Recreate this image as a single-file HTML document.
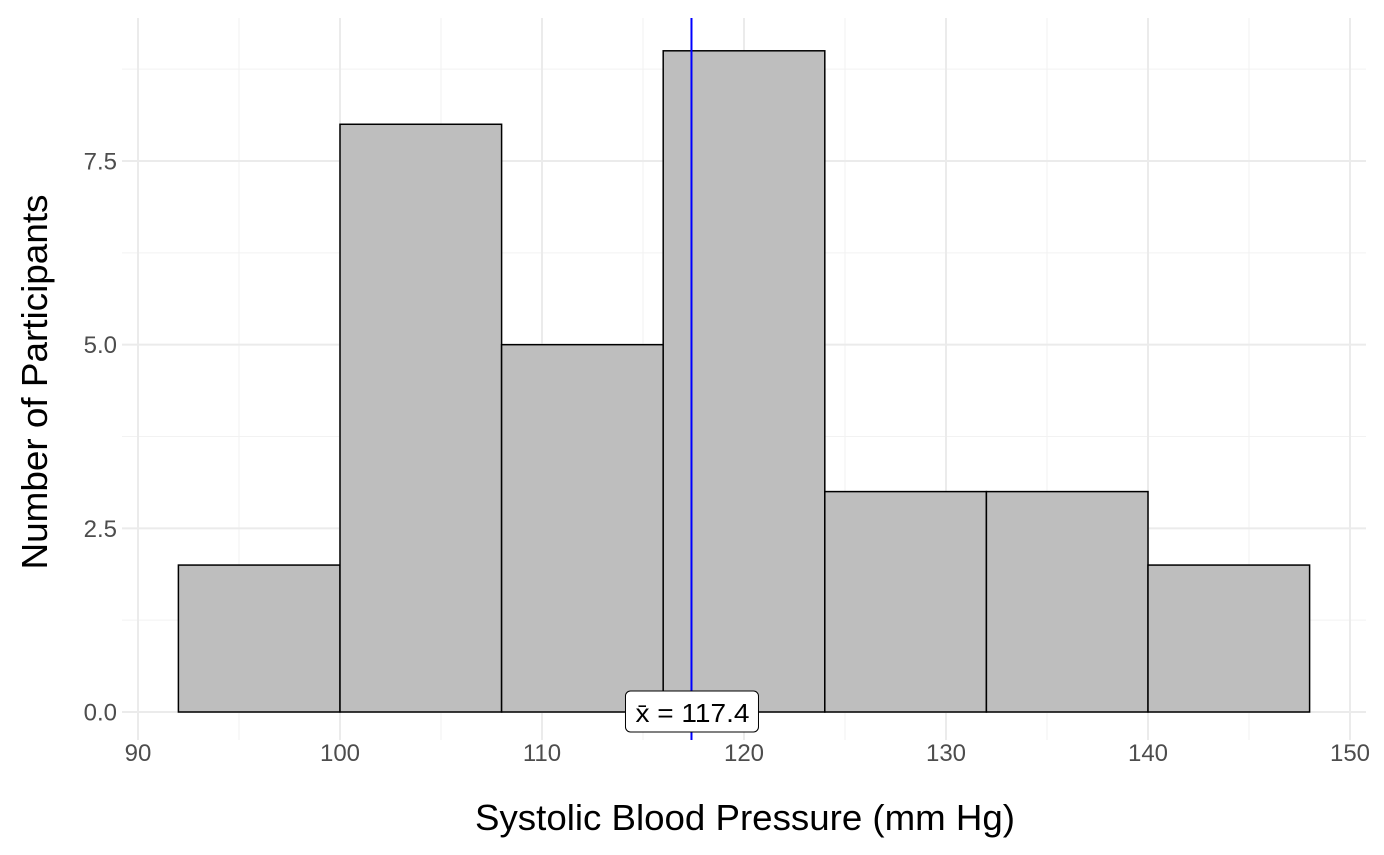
<!DOCTYPE html>
<html><head><meta charset="utf-8">
<style>
html,body{margin:0;padding:0;background:#fff;}
svg{display:block;font-family:"Liberation Sans",Arial,sans-serif;}
</style></head>
<body>
<svg id="chart" width="1384" height="855">
  <g id="grid"></g>
  <g id="bars"></g>
  <g id="ticks"></g>
  <line id="meanline" stroke="#0000ff" stroke-width="2"></line>
  <g id="meanlabel"></g>
  <text x="745" y="830" text-anchor="middle" font-size="36" textLength="540" lengthAdjust="spacingAndGlyphs" fill="#000">Systolic Blood Pressure (mm Hg)</text>
  <text transform="translate(47,382) rotate(-90)" text-anchor="middle" font-size="36" textLength="375" lengthAdjust="spacingAndGlyphs" fill="#000">Number of Participants</text>
</svg>
<script>
const binStarts = [92, 100, 108, 116, 124, 132, 140];
const binWidth = 8;
const counts = [2, 8, 5, 9, 3, 3, 2];
const meanValue = 117.4;
const xTicks = [90, 100, 110, 120, 130, 140, 150];
const yTicks = [0, 2.5, 5, 7.5];
const yTickLabels = ["0.0", "2.5", "5.0", "7.5"];

const NS = "http://www.w3.org/2000/svg";
const xs = v => 138 + (v - 90) * (1212 / 60);
const ys = v => 712 - v * (551 / 7.5);
const L = 122, R = 1366, T = 18, B = 740;
function mk(tag, attrs, parent){const e=document.createElementNS(NS,tag);for(const k in attrs)e.setAttribute(k,attrs[k]);parent.appendChild(e);return e;}

const grid = document.getElementById('grid');
for (let i=0;i<xTicks.length-1;i++){
  const v=(xTicks[i]+xTicks[i+1])/2;
  const l=mk('line',{x1:xs(v),x2:xs(v),y1:T,y2:B,stroke:'#f2f2f2','stroke-width':1},grid);
  
  
}
const yMinor=[1.25,3.75,6.25,8.75];
for (const v of yMinor){
  const l=mk('line',{x1:L,x2:R,y1:ys(v),y2:ys(v),stroke:'#f2f2f2','stroke-width':1},grid);
  
  
}
for (const v of xTicks){
  const l=mk('line',{x1:xs(v),x2:xs(v),y1:T,y2:B,stroke:'#ebebeb','stroke-width':2},grid);
  
  
}
for (const v of yTicks){
  const l=mk('line',{x1:L,x2:R,y1:ys(v),y2:ys(v),stroke:'#ebebeb','stroke-width':2},grid);
  
  
}
const bars=document.getElementById('bars');
binStarts.forEach((s,i)=>{
  const x0=xs(s),x1=xs(s+binWidth),y0=ys(counts[i]);
  const r=mk('rect',{x:x0,y:y0,width:x1-x0,height:ys(0)-y0,fill:'#bebebe',stroke:'#000','stroke-width':1.5},bars);
  
  
});
const ticks=document.getElementById('ticks');
xTicks.forEach(v=>{
  const t=mk('text',{x:xs(v),y:761,'text-anchor':'middle','font-size':24,fill:'#4d4d4d'},ticks);
  t.textContent=v;
  
  
});
yTicks.forEach((v,i)=>{
  const t=mk('text',{x:117,y:ys(v)+8.5,'text-anchor':'end','font-size':24,fill:'#4d4d4d'},ticks);
  t.textContent=yTickLabels[i];
  
  
});
const ml=document.getElementById('meanline');
ml.setAttribute('x1',xs(meanValue));ml.setAttribute('x2',xs(meanValue));
ml.setAttribute('y1',T);ml.setAttribute('y2',B);
const lg=document.getElementById('meanlabel');
const cx=xs(meanValue);
const box=mk('rect',{x:cx-66,y:691,width:133,height:41,rx:5,fill:'#ffffff',stroke:'#000','stroke-width':1},lg);


const t=mk('text',{x:cx+1,y:722,'text-anchor':'middle','font-size':26,textLength:114,lengthAdjust:'spacingAndGlyphs',fill:'#000'},lg);
t.textContent='x\u0304 = 117.4';


</script>
</body></html>
